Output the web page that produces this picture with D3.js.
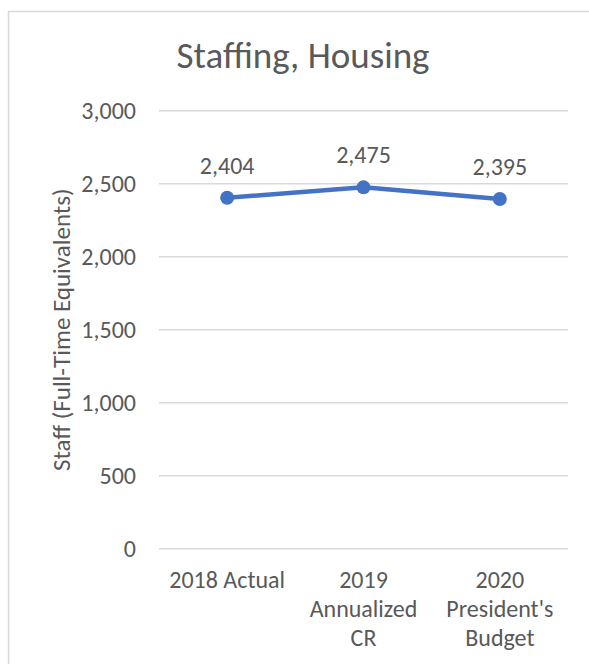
<!DOCTYPE html>
<html>
<head>
<meta charset="utf-8">
<script src="https://cdn.jsdelivr.net/npm/d3@7"></script>
<style>
  html, body { margin: 0; padding: 0; background: #fff; }
  svg { display: block; }
  text { font-family: Carlito, Calibri, Lato, "Open Sans", sans-serif; fill: #595959; }
</style>
</head>
<body>
<svg id="chart" width="589" height="664"></svg>
<script>
// Full-time equivalent staff by budget year
const categories = ["2018", "2019", "2020"];
const tickLabels = ["2018 Actual", "2019\nAnnualized\nCR", "2020\nPresident's\nBudget"];
const staff = [2404, 2475, 2395];
const yTicks = [0, 500, 1000, 1500, 2000, 2500, 3000];

const svg = d3.select("#chart");
const plot = { left: 159, right: 568, top: 110.7, bottom: 548.7 };

// outer chart frame
svg.append("rect")
  .attr("x", 8.5).attr("y", 11.5)
  .attr("width", 640).attr("height", 720)
  .attr("fill", "#fff").attr("stroke", "#d9d9d9").attr("stroke-width", 1.5);

svg.append("text")
  .attr("x", 303).attr("y", 68)
  .attr("text-anchor", "middle")
  .style("font-size", "37px")
  .text("Staffing, Housing");

const x = d3.scaleBand().domain(categories).range([plot.left, plot.right]);
const y = d3.scaleLinear().domain([0, 3000]).range([plot.bottom, plot.top]);

// horizontal gridlines + value axis labels
const yAxis = d3.axisLeft(y).tickValues(yTicks).tickFormat(d3.format(",")).tickSize(0).tickPadding(23);
const yg = svg.append("g").attr("transform", `translate(${plot.left},0)`).call(yAxis);
yg.select(".domain").remove();
yg.selectAll("text").style("font-size", "24px").attr("fill", "#595959");

svg.append("g").selectAll("line").data(yTicks).join("line")
  .attr("x1", plot.left).attr("x2", plot.right)
  .attr("y1", d => y(d)).attr("y2", d => y(d))
  .attr("stroke", "#d9d9d9").attr("stroke-width", 1.5);

// category axis labels, one line per row
const xg = svg.append("g").attr("transform", `translate(0,${plot.bottom})`)
  .call(d3.axisBottom(x).tickSize(0).tickFormat((d, i) => tickLabels[i]));
xg.select(".domain").remove();
xg.selectAll(".tick text").each(function(d, i) {
  const t = d3.select(this);
  const lines = tickLabels[i].split("\n");
  t.text(null).attr("y", 0).attr("dy", null)
    .style("font-size", "24px").attr("fill", "#595959");
  lines.forEach((ln, k) => {
    t.append("tspan").attr("x", 0).attr("y", 39 + k * 29).text(ln);
  });
});

// value axis title
svg.append("text")
  .attr("transform", `translate(70,${(plot.top + plot.bottom) / 2}) rotate(-90)`)
  .attr("text-anchor", "middle")
  .style("font-size", "25px")
  .text("Staff (Full-Time Equivalents)");

const cx = d => x(d) + x.bandwidth() / 2;
const pts = categories.map((c, i) => ({ c, v: staff[i] }));

svg.append("path")
  .datum(pts)
  .attr("fill", "none")
  .attr("stroke", "#4472C4")
  .attr("stroke-width", 4.5)
  .attr("stroke-linejoin", "round")
  .attr("d", d3.line().x(d => cx(d.c)).y(d => y(d.v)));

svg.append("g").selectAll("circle").data(pts).join("circle")
  .attr("cx", d => cx(d.c)).attr("cy", d => y(d.v))
  .attr("r", 7).attr("fill", "#4472C4");

svg.append("g").selectAll("text").data(pts).join("text")
  .attr("x", d => cx(d.c)).attr("y", d => y(d.v) - 24)
  .attr("text-anchor", "middle")
  .style("font-size", "24px")
  .attr("fill", "#404040")
  .text(d => d3.format(",")(d.v));
</script>
</body>
</html>
